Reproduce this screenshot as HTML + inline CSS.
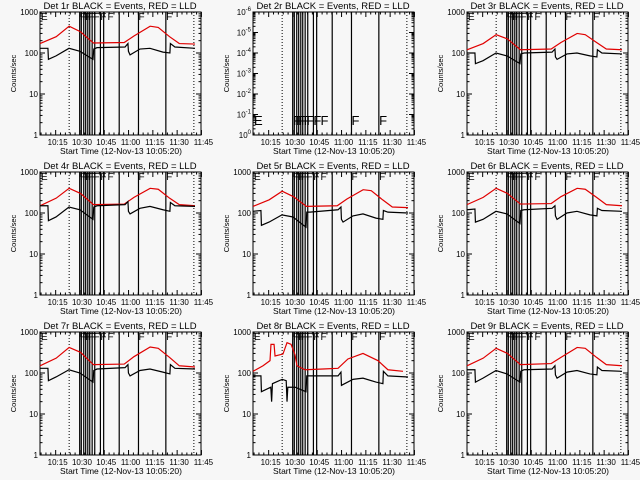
<!DOCTYPE html>
<html><head><meta charset="utf-8"><style>
html,body{margin:0;padding:0;background:#f7f7f7;}
svg{display:block;font-family:"Liberation Sans",sans-serif;}
</style></head><body>
<svg id="c" width="640" height="480" viewBox="0 0 640 480" xmlns="http://www.w3.org/2000/svg">
<rect width="640" height="480" fill="#f7f7f7"/>
</svg>
<script>
// time in minutes since 10:05:20
const xTickLabels = ["10:15","10:30","10:45","11:00","11:15","11:30","11:45"];
const xTickMinutes = [9.67,24.67,39.67,54.67,69.67,84.67,99.67];
const dottedLineMinutes = [18,95];
const eventLineMinutes = [24.5,25.5,27,28.2,29.5,30.7,32.2,33.8,37.3,39.3,48.9,60.8,77.7];
const eventLetters = ["E","F","F","F","F","F","F","F","F","F","F","E"];
const eventLetterMinutes = [0.6,24.7,26.3,28,29.6,31.3,33,37.3,41.7,60.8,77.9];
const blackT = [0,4.9,5.2,9.9,17.9,24.7,32.7,33.2,35.2,52.5,54.3,54.6,55.6,61.7,67.9,75.9,80.2,80.5,83.3,95.7];
const redT = [0,10,18,25,33,52,58,68,73,80,86,95.7];
const panelTitles = ["Det 1r","Det 2r","Det 3r","Det 4r","Det 5r","Det 6r","Det 7r","Det 8r","Det 9r"];
const black1=[130,130,70,85,130,110,70,125,135,140,170,110,90,125,130,105,100,170,140,130];
const black3=[100,100,55,65,100,85,55,95,100,105,125,80,70,95,100,85,80,120,100,95];
const black4=[150,150,65,80,140,120,70,140,150,160,190,110,95,130,145,120,110,180,150,145];
const black5=[110,115,50,60,90,80,45,105,105,120,140,70,60,85,95,75,70,115,105,100];
const black6=[120,125,60,70,110,95,55,115,120,130,150,85,70,100,110,90,85,130,115,110];
const black7=[130,130,65,80,120,100,60,115,125,135,160,100,85,115,125,105,95,160,130,125];
const black9=[120,120,60,75,115,95,60,110,120,125,150,90,75,105,115,95,90,140,115,110];
const red1=[170,250,450,330,175,180,260,450,420,250,170,165];
const red3=[120,170,280,220,120,125,180,300,280,180,125,120];
const red4=[150,230,400,300,160,165,240,400,380,230,160,150];
const red5=[145,210,340,250,145,150,220,370,350,210,140,135];
const red6=[160,240,400,300,165,170,250,400,380,240,160,150];
const red7=[150,230,420,320,160,165,250,430,400,240,150,140];
const red9=[150,230,400,300,160,170,240,420,400,240,160,150];
const black8T=[0,4.9,5.2,11,11.5,12,18,20.5,21,21.5,26,32.7,33.2,52.5,54.3,54.6,61.7,67.9,75.9,80.2,80.5,83.3,95.7];
const black8=[85,85,35,45,20,55,70,65,20,45,45,35,85,85,105,50,70,75,60,55,110,85,80];
const red8T=[0,6.2,10.5,11.1,13,13.6,18.5,21,23.5,25.9,27.2,32.1,43.2,52.5,58.6,67.9,77.2,83.3,92.6];
const red8=[110,150,200,500,500,260,290,550,500,280,150,120,125,130,220,300,200,120,110];

const NS="http://www.w3.org/2000/svg";
const svg=document.getElementById('c');
function mk(tag,attrs,parent){const e=document.createElementNS(NS,tag);for(const k in attrs)e.setAttribute(k,attrs[k]);(parent||svg).appendChild(e);return e;}
const PL=40,PR=201,PT=12,PB=135,TMAX=99.4;

const panels=[
 {b:black1,r:red1},{empty:true},{b:black3,r:red3},
 {b:black4,r:red4},{b:black5,r:red5},{b:black6,r:red6},
 {b:black7,r:red7},{b:black8,bt:black8T,r:red8,rt:red8T},{b:black9,r:red9}
];
panels.forEach((p,i)=>{
 const ox=Math.round((i%3)*213.33), oy=Math.floor(i/3)*160;
 const g=mk('g',{transform:`translate(${ox},${oy})`});
 
 
 const xs=t=>PL+t/TMAX*(PR-PL);
 const lmin=p.empty?-6:0, lmax=p.empty?0:3;
 const ys=v=>PB-(Math.log10(v)-lmin)/(lmax-lmin)*(PB-PT);
 const tt=mk('text',{x:120,y:9,'font-size':9.5,'text-anchor':'middle',fill:'#000'},g);
 tt.textContent=panelTitles[i]+" BLACK = Events, RED = LLD";
 
 
 const fr=mk('rect',{x:PL,y:PT,width:PR-PL,height:PB-PT,fill:'none',stroke:'#000','stroke-width':1},g);
 
 
 for(let d=lmin;d<=lmax;d++){
  const y=ys(Math.pow(10,d));
  mk('line',{x1:PL,x2:PL+5,y1:y,y2:y,stroke:'#000'},g);
  mk('line',{x1:PR,x2:PR-5,y1:y,y2:y,stroke:'#000'},g);
  const lb=mk('text',{x:PL-2,y:y+3,'font-size':8,'text-anchor':'end',fill:'#000'},g);
  
  
  if(p.empty){lb.textContent="10";const s=mk('tspan',{dy:-4,'font-size':6},lb);const ex=d-lmin;s.textContent=ex===0?"0":String(-ex);}
  else lb.textContent=String(Math.pow(10,d));
  if(d<lmax)for(let m=2;m<10;m++){const ym=ys(m*Math.pow(10,d));mk('line',{x1:PL,x2:PL+2.5,y1:ym,y2:ym,stroke:'#000'},g);mk('line',{x1:PR,x2:PR-2.5,y1:ym,y2:ym,stroke:'#000'},g);}
 }
 const yl=mk('text',{x:0,y:0,'font-size':7.5,'text-anchor':'middle',fill:'#000',transform:`translate(16,${(PT+PB)/2}) rotate(-90)`},g);
 yl.textContent="Counts/sec";
 
 
 xTickMinutes.forEach((t,k)=>{
  const x=xs(t);
  mk('line',{x1:x,x2:x,y1:PB,y2:PB-5,stroke:'#000'},g);
  mk('line',{x1:x,x2:x,y1:PT,y2:PT+5,stroke:'#000'},g);
  for(let m=1;m<5;m++){const xm=xs(t-15+m*3);if(xm>PL)mk('line',{x1:xm,x2:xm,y1:PB,y2:PB-2.5,stroke:'#000'},g),mk('line',{x1:xm,x2:xm,y1:PT,y2:PT+2.5,stroke:'#000'},g);}
  const lb=mk('text',{x:x+2,y:PB+10,'font-size':8,'text-anchor':'middle',fill:'#000'},g);
  lb.textContent=xTickLabels[k];
  
  
 });
 const xl=mk('text',{x:121,y:PB+19,'font-size':8.5,'text-anchor':'middle',fill:'#000'},g);
 xl.textContent="Start Time (12-Nov-13 10:05:20)";
 
 
 dottedLineMinutes.forEach(t=>{const l=mk('line',{x1:xs(t),x2:xs(t),y1:PT,y2:PB,stroke:'#000','stroke-dasharray':'1,2'},g);
  
  });
 eventLineMinutes.forEach(t=>{const l=mk('line',{x1:xs(t),x2:xs(t),y1:PT,y2:PB,stroke:'#000','stroke-width':1.2},g);
  
  });
 eventLetterMinutes.forEach((t,k)=>{
  const ly=p.empty?PB-10:PT+8;
  const lt=mk('text',{x:xs(t),y:ly,'font-size':p.empty?13:10,fill:'#000'},g);
  lt.textContent=eventLetters[k];
  
  
 });
 if(!p.empty){
  const bt=p.bt||blackT, rt=p.rt||redT;
  const rp=mk('polyline',{points:rt.map((t,k)=>xs(t)+','+ys(p.r[k])).join(' '),fill:'none',stroke:'#e00000','stroke-width':1.2},g);
  
  
  const bp=mk('polyline',{points:bt.map((t,k)=>xs(t)+','+ys(p.b[k])).join(' '),fill:'none',stroke:'#000','stroke-width':1.2},g);
  
  
 }
});
</script>
</body></html>
